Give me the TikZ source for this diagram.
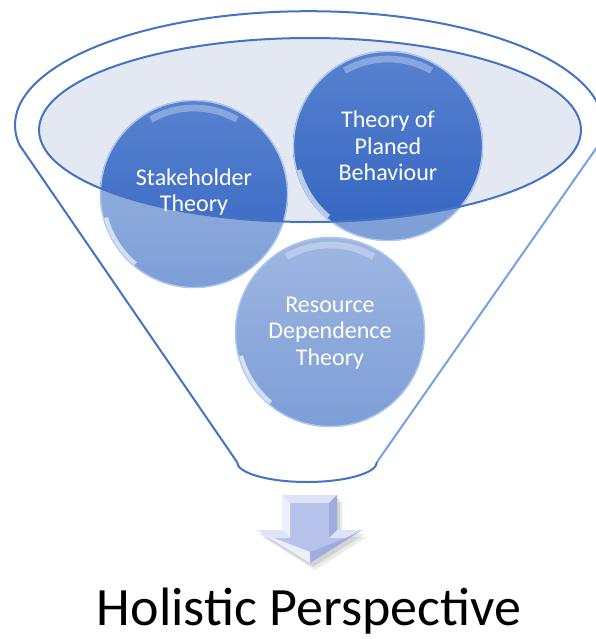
\documentclass[tikz,border=0pt]{standalone}
\usepackage{fontspec}
\setmainfont{Carlito}
\usepackage{tikz}
\tikzset{every picture/.style={line width=0.75pt}}

\definecolor{funnelBlue}{RGB}{68,114,196}
\definecolor{funnelLight}{RGB}{118,160,228}
\definecolor{surfaceFill}{RGB}{228,232,243}
\definecolor{darkTop}{RGB}{88,130,208}
\definecolor{darkBot}{RGB}{50,100,192}
\definecolor{lightTop}{RGB}{160,182,226}
\definecolor{lightBot}{RGB}{124,158,214}
\definecolor{rimBlue}{RGB}{170,200,240}
\definecolor{arrowFace}{RGB}{183,194,235}
\definecolor{arrowLit}{RGB}{222,228,248}
\definecolor{arrowPale}{RGB}{236,240,252}
\definecolor{arrowShade}{RGB}{158,172,222}

\tikzset{
  lightball/.style={top color=lightTop, bottom color=lightBot},
  darkball/.style={top color=darkTop, bottom color=darkBot},
  gloss/.style={white, opacity=.3, line width=5pt},
  shine/.style={white, opacity=.65, line width=3pt},
  rim/.style={rimBlue, line width=1pt},
  theorytext/.style={text=white, align=center, font=\fontsize{18}{20}\selectfont},
}

\begin{document}
\begin{tikzpicture}[x=0.75pt,y=0.75pt,yscale=-1,xscale=1]
		\useasboundingbox (0,0) rectangle (596,639);
		
		%Coordinates
		\coordinate (topL) at (19.5,145);
		\coordinate (topR) at (598.5,145);
		\coordinate (botL) at (237,462);
		\coordinate (botR) at (377,462);
		\coordinate (stake) at (194,194);
		\coordinate (planed) at (388,146);
		\coordinate (resource) at (330,332);
		
		%Shape: Ellipse (liquid surface)
		\fill[surfaceFill] (310,130) ellipse [x radius=271, y radius=92];
		
		%Shape: Circle
		\shade[lightball] (stake) circle [radius=94];
		%Shape: Circle
		\shade[lightball] (planed) circle [radius=95];
		%Shape: Circle
		\shade[lightball] (resource) circle [radius=95];
		
		%Shape: Circle (part inside the surface)
		\begin{scope}
		\clip (310,130) ellipse [x radius=271, y radius=92];
		\shade[darkball] (stake) circle [radius=94];
		\shade[darkball] (planed) circle [radius=95];
		\end{scope}
		
		%Gloss
		\draw[rim] (stake) circle [radius=93.5];
		\draw[rim] (planed) circle [radius=94.5];
		\draw[rim] (resource) circle [radius=94.5];
		\draw[gloss] (stake) ++(240:86) arc [start angle=240, end angle=300, radius=86];
		\draw[gloss] (planed) ++(240:87) arc [start angle=240, end angle=300, radius=87];
		\draw[gloss] (resource) ++(240:87) arc [start angle=240, end angle=300, radius=87];
		\draw[shine] (stake) ++(130:91) arc [start angle=130, end angle=165, radius=91];
		\draw[shine] (planed) ++(130:92) arc [start angle=130, end angle=165, radius=92];
		\draw[shine] (resource) ++(130:92) arc [start angle=130, end angle=165, radius=92];
		
		%Shape: Ellipse (surface outline)
		\draw[funnelBlue, line width=1.5pt] (310,130) ellipse [x radius=271, y radius=92];
		
		%Shape: Funnel
		\draw[funnelBlue, line width=1.5pt] (botL) -- (topL) arc [start angle=170, end angle=370, x radius=294, y radius=114];
		%Straight Lines
		\draw[funnelLight, line width=1.5pt] (topR) -- (botR);
		%Curve Lines
		\draw[funnelBlue, line width=1.5pt] (botR) arc [start angle=0, end angle=180, x radius=70, y radius=20];
		
		%Shape: Down Arrow
		\coordinate (aA) at (282,495); \coordinate (aB) at (337,495);
		\coordinate (aC) at (337,530); \coordinate (aD) at (362,530);
		\coordinate (aE) at (310,563); \coordinate (aF) at (257,530);
		\coordinate (aG) at (282,530);
		\coordinate (ia) at (290,503); \coordinate (ib) at (329,503);
		\coordinate (ic) at (329,538); \coordinate (id) at (346,538);
		\coordinate (ie) at (310,552); \coordinate (if) at (274,538);
		\coordinate (ig) at (290,538);
		\fill[black, opacity=.08] ([shift={(5,7)}]aA) -- ([shift={(5,7)}]aB) -- ([shift={(5,7)}]aC) -- ([shift={(5,7)}]aD) -- ([shift={(5,7)}]aE) -- ([shift={(5,7)}]aF) -- ([shift={(5,7)}]aG) -- cycle;
		\fill[black, opacity=.1] ([shift={(3,4)}]aA) -- ([shift={(3,4)}]aB) -- ([shift={(3,4)}]aC) -- ([shift={(3,4)}]aD) -- ([shift={(3,4)}]aE) -- ([shift={(3,4)}]aF) -- ([shift={(3,4)}]aG) -- cycle;
		\fill[arrowFace] (aA) -- (aB) -- (aC) -- (aD) -- (aE) -- (aF) -- (aG) -- cycle;
		\fill[arrowLit] (aA) -- (aB) -- (ib) -- (ia) -- cycle;
		\fill[arrowPale] (aA) -- (ia) -- (ig) -- (aG) -- cycle;
		\fill[arrowShade] (aB) -- (aC) -- (ic) -- (ib) -- cycle;
		\fill[arrowLit] (aC) -- (aD) -- (id) -- (ic) -- cycle;
		\fill[arrowShade] (aD) -- (aE) -- (ie) -- (id) -- cycle;
		\fill[arrowPale] (aE) -- (aF) -- (if) -- (ie) -- cycle;
		\fill[arrowLit] (aF) -- (aG) -- (ig) -- (if) -- cycle;
		
		% Text Node
		\node[theorytext] (stakeText) at (194,192) {Stakeholder\\Theory};
		% Text Node
		\node[theorytext] (planedText) at (388,146) {Theory of\\Planed\\Behaviour};
		% Text Node
		\node[theorytext] (resourceText) at (330,333) {Resource\\Dependence\\Theory};
		% Text Node
		\node[anchor=base, font=\fontsize{40.5}{48}\selectfont] (holistic) at (309,625) {Holistic Perspective};
		
\end{tikzpicture}
\end{document}
